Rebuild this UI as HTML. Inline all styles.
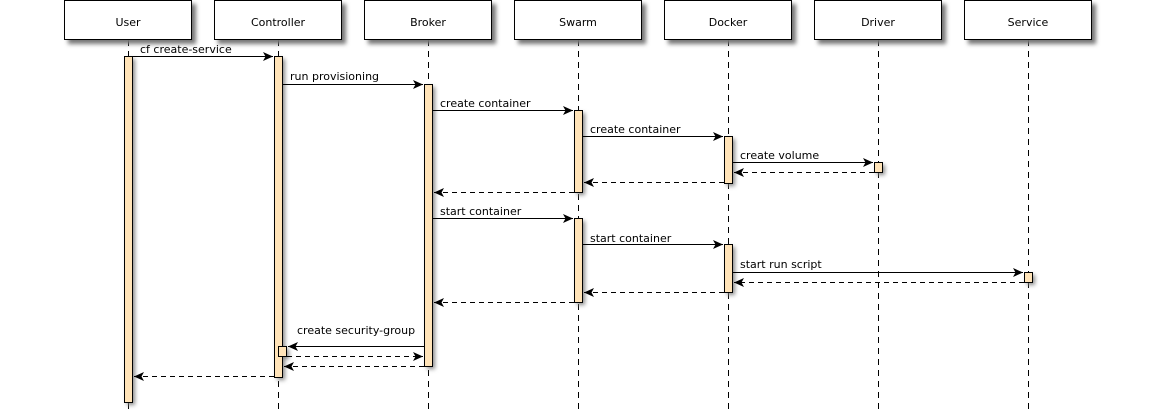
<!DOCTYPE html>
<html><head><meta charset="utf-8"><style>
html,body{margin:0;padding:0;background:#fff;width:1156px;height:410px;overflow:hidden}
svg{display:block}
text{font-family:"DejaVu Sans","Liberation Sans",sans-serif;font-size:11px;fill:#000}
</style></head><body>
<svg width="1156" height="410" viewBox="0 0 1156 410" xmlns="http://www.w3.org/2000/svg">
<defs>
<filter id="sh" x="-20%" y="-20%" width="150%" height="160%"><feGaussianBlur stdDeviation="2"/></filter>
<marker id="ar" markerWidth="11" markerHeight="11" refX="10" refY="5" orient="auto" markerUnits="userSpaceOnUse"><path d="M0,0.5 L10,5 L0,9.5 L2.5,5 Z" fill="#000"/></marker>
</defs>
<g stroke="#000" stroke-width="1" stroke-dasharray="6,5">
<line x1="128.5" y1="40" x2="128.5" y2="410"/>
<line x1="278.5" y1="40" x2="278.5" y2="410"/>
<line x1="428.5" y1="40" x2="428.5" y2="410"/>
<line x1="578.5" y1="40" x2="578.5" y2="410"/>
<line x1="728.5" y1="40" x2="728.5" y2="410"/>
<line x1="878.5" y1="40" x2="878.5" y2="410"/>
<line x1="1028.5" y1="40" x2="1028.5" y2="410"/>
</g>
<g fill="#777" filter="url(#sh)">
<rect x="68" y="4" width="128" height="40"/><rect x="218" y="4" width="128" height="40"/><rect x="368" y="4" width="128" height="40"/><rect x="518" y="4" width="128" height="40"/><rect x="668" y="4" width="128" height="40"/><rect x="818" y="4" width="128" height="40"/><rect x="968" y="4" width="128" height="40"/>
</g>
<g fill="#fff" stroke="#000">
<rect x="64.5" y="0.5" width="127" height="39"/><rect x="214.5" y="0.5" width="127" height="39"/><rect x="364.5" y="0.5" width="127" height="39"/><rect x="514.5" y="0.5" width="127" height="39"/><rect x="664.5" y="0.5" width="127" height="39"/><rect x="814.5" y="0.5" width="127" height="39"/><rect x="964.5" y="0.5" width="127" height="39"/>
</g>
<g text-anchor="middle">
<text x="128" y="26">User</text><text x="278" y="26">Controller</text><text x="428" y="26">Broker</text><text x="578" y="26">Swarm</text><text x="728" y="26">Docker</text><text x="878" y="26">Driver</text><text x="1028" y="26">Service</text>
</g>
<g fill="#888" filter="url(#sh)">
<rect x="127" y="59" width="8" height="346"/>
<rect x="277" y="59" width="8" height="321"/>
<rect x="427" y="87" width="8" height="282"/>
<rect x="577" y="113" width="8" height="82"/>
<rect x="577" y="221" width="8" height="84"/>
<rect x="727" y="139" width="8" height="47"/>
<rect x="727" y="247" width="8" height="48"/>
<rect x="877" y="165" width="8" height="10"/>
<rect x="1027" y="275" width="8" height="10"/>
<rect x="281" y="349" width="8" height="10"/>
</g>
<g fill="#ffe3b8" stroke="#000">
<rect x="124.5" y="56.5" width="8" height="346"/>
<rect x="274.5" y="56.5" width="8" height="321"/>
<rect x="424.5" y="84.5" width="8" height="282"/>
<rect x="574.5" y="110.5" width="8" height="82"/>
<rect x="574.5" y="218.5" width="8" height="84"/>
<rect x="724.5" y="136.5" width="8" height="47"/>
<rect x="724.5" y="244.5" width="8" height="48"/>
<rect x="874.5" y="162.5" width="8" height="10"/>
<rect x="1024.5" y="272.5" width="8" height="10"/>
<rect x="278.5" y="346.5" width="8" height="10"/>
</g>
<g stroke="#000" stroke-width="1" marker-end="url(#ar)">
<line x1="133" y1="56.5" x2="273" y2="56.5"/>
<line x1="283" y1="84.5" x2="423" y2="84.5"/>
<line x1="433" y1="110.5" x2="573" y2="110.5"/>
<line x1="583" y1="136.5" x2="723" y2="136.5"/>
<line x1="733" y1="162.5" x2="873" y2="162.5"/>
<line x1="433" y1="218.5" x2="573" y2="218.5"/>
<line x1="583" y1="244.5" x2="723" y2="244.5"/>
<line x1="733" y1="272.5" x2="1023" y2="272.5"/>
<line x1="424" y1="346.5" x2="288" y2="346.5"/>
</g>
<g stroke="#000" stroke-width="1" stroke-dasharray="5,4" marker-end="url(#ar)">
<line x1="874" y1="172.5" x2="734" y2="172.5"/>
<line x1="724" y1="182.5" x2="584" y2="182.5"/>
<line x1="574" y1="192.5" x2="434" y2="192.5"/>
<line x1="1024" y1="282.5" x2="734" y2="282.5"/>
<line x1="724" y1="292.5" x2="584" y2="292.5"/>
<line x1="574" y1="302.5" x2="434" y2="302.5"/>
<line x1="287" y1="356.5" x2="423" y2="356.5"/>
<line x1="424" y1="366.5" x2="284" y2="366.5"/>
<line x1="274" y1="376.5" x2="134" y2="376.5"/>
</g>
<text x="140" y="53">cf create-service</text>
<text x="290" y="80">run provisioning</text>
<text x="440" y="107">create container</text>
<text x="590" y="133">create container</text>
<text x="740" y="159">create volume</text>
<text x="440" y="215">start container</text>
<text x="590" y="242">start container</text>
<text x="740" y="268">start run script</text>
<text x="297" y="334">create security-group</text>
</svg>
</body></html>
